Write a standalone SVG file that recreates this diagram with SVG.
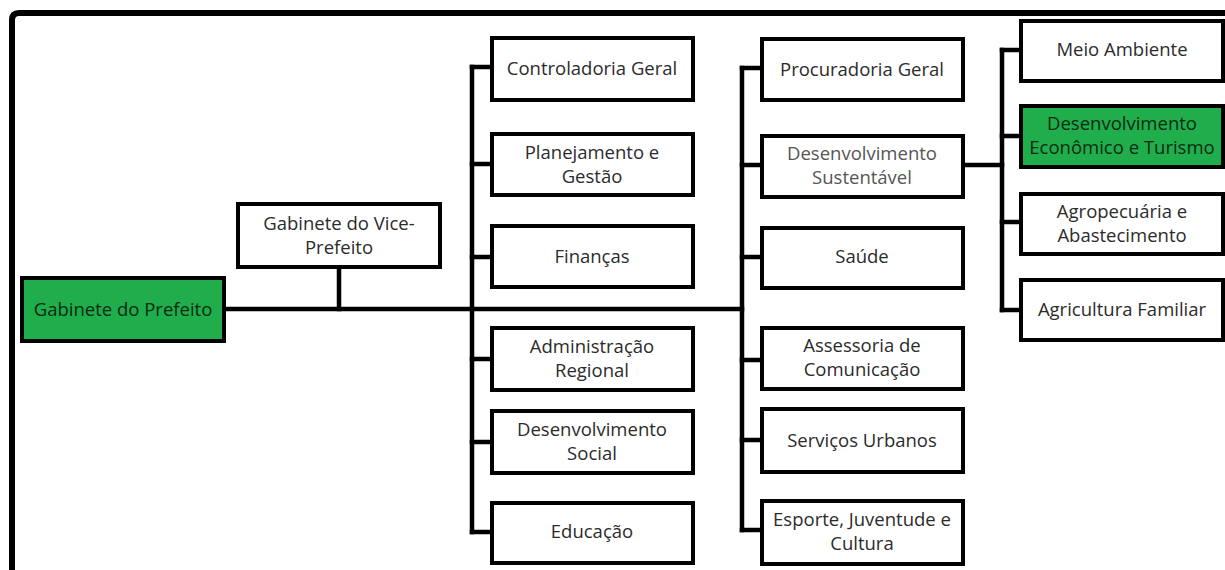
<svg xmlns="http://www.w3.org/2000/svg" width="1225" height="570" viewBox="0 0 1225 570">
<style>
.box{fill:#ffffff;stroke:#000000;stroke-width:4}
.green{fill:#1fae4b;stroke:#000000;stroke-width:4}
.ln{fill:none;stroke:#000000;stroke-width:4.5;stroke-linecap:square}
text{font-family:"Open Sans","Liberation Sans",sans-serif;font-size:18.5px;fill:#2b2b2b;text-anchor:middle}
.gt{fill:#0b2a14}
.lt{fill:#555555}
</style>
<rect width="1225" height="570" fill="#ffffff"/>
<g id="frame"><path d="M12,572 L12,20 Q12,13 19,13 L1227,13" fill="none" stroke="#000" stroke-width="6"/></g>
<g id="connectors">
<path class="ln" d="M224,309 L742,309"/>
<path class="ln" d="M339,267 L339,309"/>
<path class="ln" d="M472,67 L472,532"/>
<path class="ln" d="M472,67 L492,67 M472,164 L492,164 M472,257 L492,257 M472,359 L492,359 M472,442 L492,442 M472,532 L492,532"/>
<path class="ln" d="M742,68 L742,530"/>
<path class="ln" d="M742,68 L762,68 M742,165 L762,165 M742,257 L762,257 M742,360 L762,360 M742,440 L762,440 M742,530 L762,530"/>
<path class="ln" d="M963,165 L1002,165"/>
<path class="ln" d="M1002,50 L1002,310"/>
<path class="ln" d="M1002,50 L1021,50 M1002,136 L1021,136 M1002,222 L1021,222 M1002,310 L1021,310"/>
</g>
<g id="n-prefeito"><rect class="green" x="22" y="278" width="202" height="63"/><text class="gt" x="123" y="316">Gabinete do Prefeito</text></g>
<g id="n-vice"><rect class="box" x="238" y="204" width="202" height="63"/><text x="339" y="230">Gabinete do Vice-</text><text x="339" y="254">Prefeito</text></g>
<g id="n-controladoria"><rect class="box" x="492" y="38" width="201" height="62"/><text x="592" y="75">Controladoria Geral</text></g>
<g id="n-planejamento"><rect class="box" x="492" y="134" width="201" height="61"/><text x="592" y="159">Planejamento e</text><text x="592" y="183">Gestão</text></g>
<g id="n-financas"><rect class="box" x="492" y="226" width="201" height="61"/><text x="592" y="263">Finanças</text></g>
<g id="n-administracao"><rect class="box" x="492" y="328" width="201" height="62"/><text x="592" y="353">Administração</text><text x="592" y="377">Regional</text></g>
<g id="n-dsocial"><rect class="box" x="492" y="411" width="201" height="62"/><text x="592" y="436">Desenvolvimento</text><text x="592" y="460">Social</text></g>
<g id="n-educacao"><rect class="box" x="492" y="503" width="201" height="60"/><text x="592" y="538">Educação</text></g>
<g id="n-procuradoria"><rect class="box" x="762" y="39" width="201" height="61"/><text x="862" y="76">Procuradoria Geral</text></g>
<g id="n-dsustentavel"><rect class="box" x="762" y="136" width="201" height="61"/><text class="lt" x="862" y="160">Desenvolvimento</text><text class="lt" x="862" y="184">Sustentável</text></g>
<g id="n-saude"><rect class="box" x="762" y="228" width="201" height="60"/><text x="862" y="263">Saúde</text></g>
<g id="n-assessoria"><rect class="box" x="762" y="328" width="201" height="61"/><text x="862" y="352">Assessoria de</text><text x="862" y="376">Comunicação</text></g>
<g id="n-servicos"><rect class="box" x="762" y="409" width="201" height="63"/><text x="862" y="447">Serviços Urbanos</text></g>
<g id="n-esporte"><rect class="box" x="762" y="501" width="201" height="63"/><text x="862" y="526">Esporte, Juventude e</text><text x="862" y="550">Cultura</text></g>
<g id="n-meio"><rect class="box" x="1021" y="21" width="202" height="60"/><text x="1122" y="56">Meio Ambiente</text></g>
<g id="n-deconomico"><rect class="green" x="1021" y="106" width="202" height="61"/><text class="gt" x="1122" y="130">Desenvolvimento</text><text class="gt" x="1122" y="154">Econômico e Turismo</text></g>
<g id="n-agropecuaria"><rect class="box" x="1021" y="194" width="202" height="60"/><text x="1122" y="218">Agropecuária e</text><text x="1122" y="242">Abastecimento</text></g>
<g id="n-agricultura"><rect class="box" x="1021" y="280" width="202" height="60"/><text x="1122" y="316">Agricultura Familiar</text></g>
</svg>
